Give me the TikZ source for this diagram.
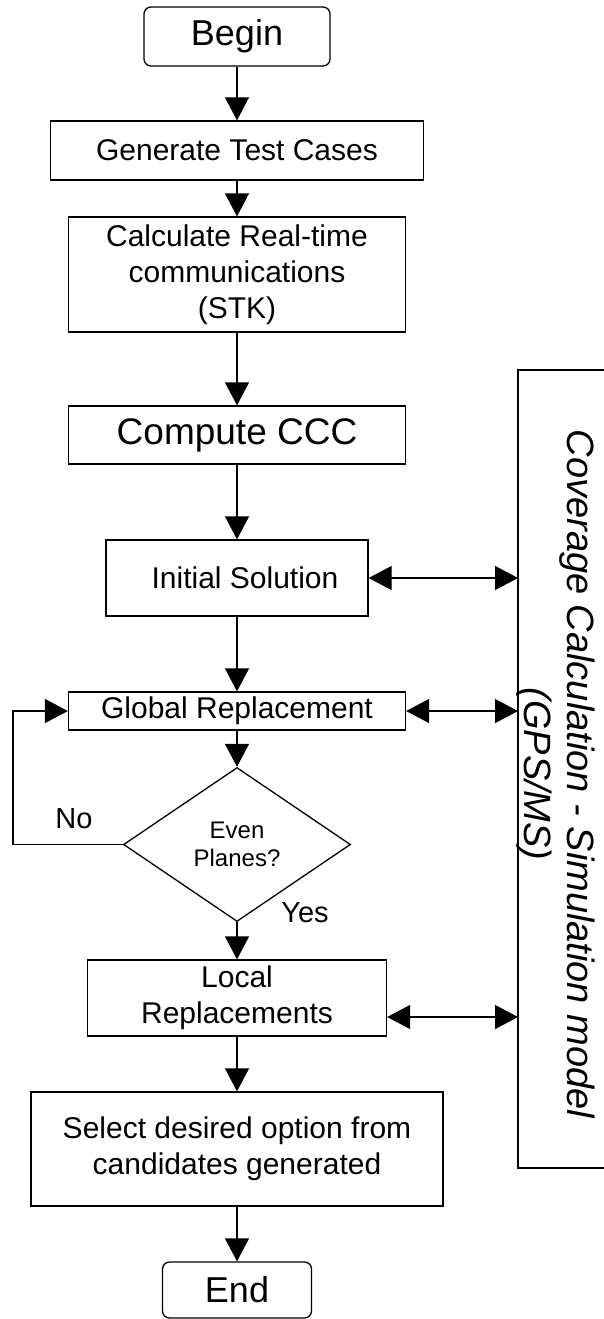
\documentclass[tikz,border=0pt]{standalone}
\usepackage{fontspec}
\setmainfont{Liberation Sans}
\usetikzlibrary{arrows.meta,shapes.geometric}
\begin{document}
\begin{tikzpicture}[x=1pt,y=-1pt,
  line width=1.3pt,
  box/.style={draw, rectangle, inner sep=0pt, align=center, font=\fontsize{30}{36}\selectfont},
  term/.style={draw, rectangle, rounded corners=7pt, inner sep=0pt, font=\fontsize{36}{40}\selectfont},
  arr/.style={-{Triangle[length=23pt,width=24pt]}},
  darr/.style={{Triangle[length=23pt,width=24pt]}-{Triangle[length=23pt,width=24pt]}},
  lbl/.style={font=\fontsize{29}{33}\selectfont, inner sep=0pt}]
\useasboundingbox (0,0) rectangle (604,1319);
% nodes
\node[term, minimum width=186pt, minimum height=59pt] (begin) at (237,36.5) {\raisebox{-4pt}{Begin}};
\node[box, minimum width=373pt, minimum height=59pt] (gen) at (237,150.5) {Generate Test Cases};
\node[box, minimum width=337pt, minimum height=115pt] (calc) at (237,274.5) {Calculate Real-time\\communications\\(STK)};
\node[box, minimum width=337pt, minimum height=58pt, font=\fontsize{37}{40}\selectfont] (ccc) at (237,435) {Compute CCC};
\node[box, minimum width=262pt, minimum height=76pt] (init) at (237,578) {\hspace*{16pt}Initial Solution};
\node[box, minimum width=337pt, minimum height=38pt] (glob) at (237,711) {Global Replacement};
\node[draw, diamond, minimum width=227pt, minimum height=154pt, inner sep=0pt, align=center, font=\fontsize{24}{28}\selectfont] (dia) at (237,844.5) {\raisebox{-3pt}{Even}\\\raisebox{-3pt}{Planes?}};
\node[box, minimum width=299pt, minimum height=76pt] (local) at (237,998) {Local\\Replacements};
\node[box, minimum width=412pt, minimum height=114pt] (sel) at (237,1149) {Select desired option from\\candidates generated};
\node[term, minimum width=149pt, minimum height=56pt] (end) at (237,1290) {End};
% right-side model box
\coordinate (simtop) at (518,370);
\coordinate (simbot) at (518,1168);
\draw (604,370) -- (simtop) -- (simbot) -- (604,1168);
\node[rotate=-90, align=center, inner sep=0pt, font=\itshape\fontsize{38}{43}\selectfont] (simlbl) at (556,774) {Coverage Calculation - Simulation model\\(GPS/MS)};
% labels
\node[lbl] (no) at (74,819) {No};
\node[lbl] (yes) at (305,913) {Yes};
% connectors
\draw[arr] (begin) -- (gen);
\draw[arr] (gen) -- (calc);
\draw[arr] (calc) -- (ccc);
\draw[arr] (ccc) -- (init);
\draw[arr] (init) -- (glob);
\draw[arr] (glob) -- (dia);
\draw[arr] (dia) -- (local);
\draw[arr] (local) -- (sel);
\draw[arr] (sel) -- (end);
\coordinate (loopc) at (13,844.5);
\draw[arr] (dia.west) -- (loopc) |- (glob.west);
\draw[darr] (init.east) -- (init.east -| simtop);
\draw[darr] (glob.east) -- (glob.east -| simtop);
\draw[darr] ([yshift=-19pt]local.east) -- ([yshift=-19pt]local.east -| simtop);
\end{tikzpicture}
\end{document}
